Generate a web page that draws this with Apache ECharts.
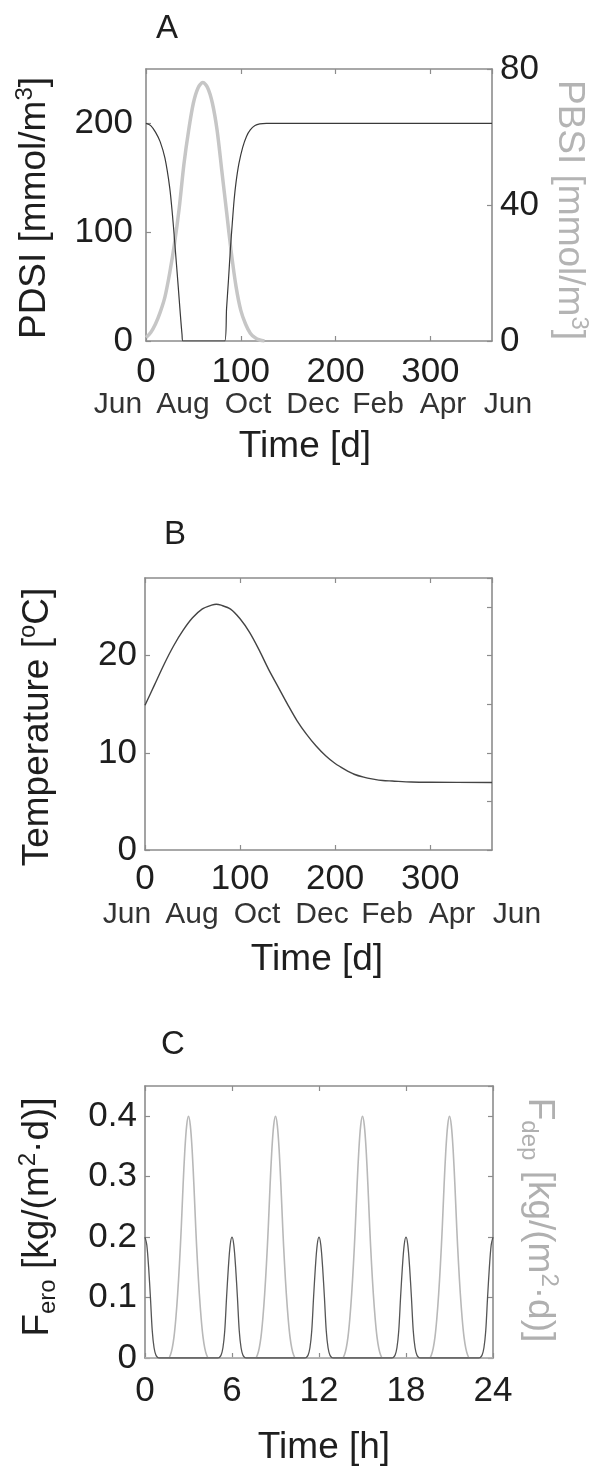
<!DOCTYPE html>
<html><head><meta charset="utf-8">
<script src="https://cdn.jsdelivr.net/npm/echarts@6/dist/echarts.min.js"></script>
<style>html,body{margin:0;padding:0;background:#fff}#c{width:602px;height:1473px}</style>
</head><body><div id="c"></div>
<script>
// ---------- data ----------
const monthLabels = ['Jun','Aug','Oct','Dec','Feb','Apr','Jun'];
const dayAxis = [0, 365, 100];          // min, max, interval
const pdsiAxis = [0, 250, 100];
const pbsiAxis = [0, 80, 40];
const tempAxis = [0, 28, 10];
const hourAxis = [0, 24, 6];
const fluxAxis = [0, 0.45, 0.1];

const pdsiData = [[0,200],[5,198],[10,192],[15,183],[20,168],[25,141],[28,115],[30,94],[32,72],[34,50],[36,27],[38,6],[39,0],
  [83,0],[85,30],[87,56],[89,84],[91,108],[93,130],[95,146],[98,163],[102,178],[106,188],[110,194],[115,198],[120,199.5],[127,200],[365,200]];
const pbsiData = [[0,1],[5,2.5],[10,5],[15,8.5],[20,13],[25,20],[30,28.5],[35,39],[40,52],[45,62],[50,70],[55,74.5],[60,76],[65,74.5],
  [70,70],[75,62],[80,50],[85,38],[90,26],[95,16],[100,9],[105,5],[110,2.3],[115,1],[120,0.3],[125,0]];
const tempData = [[0,14.9],[10,17],[20,19.1],[30,21],[40,22.6],[50,23.9],[60,24.8],[70,25.2],[75,25.3],[80,25.2],[90,24.8],[100,23.8],
  [110,22.4],[120,20.6],[130,18.6],[140,16.8],[150,15],[160,13.3],[170,11.9],[180,10.7],[190,9.7],[200,8.9],[210,8.3],[220,7.8],
  [230,7.5],[240,7.3],[250,7.15],[260,7.1],[280,7.0],[300,6.97],[365,6.95]];
const feroData = [
  [0,0.2],[0.125,0.187],[0.25,0.15],[0.375,0.1],[0.5,0.045],[0.625,0.017],[0.75,0.005],[0.875,0.001],[1,0],
  [5,0],[5.125,0.001],[5.25,0.005],[5.375,0.017],[5.5,0.045],[5.625,0.1],[5.75,0.15],[5.875,0.187],[6,0.2],
  [6.125,0.187],[6.25,0.15],[6.375,0.1],[6.5,0.045],[6.625,0.017],[6.75,0.005],[6.875,0.001],[7,0],
  [11,0],[11.125,0.001],[11.25,0.005],[11.375,0.017],[11.5,0.045],[11.625,0.1],[11.75,0.15],[11.875,0.187],[12,0.2],
  [12.125,0.187],[12.25,0.15],[12.375,0.1],[12.5,0.045],[12.625,0.017],[12.75,0.005],[12.875,0.001],[13,0],
  [17,0],[17.125,0.001],[17.25,0.005],[17.375,0.017],[17.5,0.045],[17.625,0.1],[17.75,0.15],[17.875,0.187],[18,0.2],
  [18.125,0.187],[18.25,0.15],[18.375,0.1],[18.5,0.045],[18.625,0.017],[18.75,0.005],[18.875,0.001],[19,0],
  [23,0],[23.125,0.001],[23.25,0.005],[23.375,0.017],[23.5,0.045],[23.625,0.1],[23.75,0.15],[23.875,0.187],[24,0.2]];
const fdepData = [
  [0,0],[1.625,0],[1.75,0.005],[1.875,0.016],[2,0.035],[2.125,0.065],[2.25,0.105],[2.375,0.155],[2.5,0.215],[2.625,0.285],[2.75,0.345],[2.875,0.385],[3,0.4],
  [3.125,0.385],[3.25,0.345],[3.375,0.285],[3.5,0.215],[3.625,0.155],[3.75,0.105],[3.875,0.065],[4,0.035],[4.125,0.016],[4.25,0.005],[4.375,0],
  [7.625,0],[7.75,0.005],[7.875,0.016],[8,0.035],[8.125,0.065],[8.25,0.105],[8.375,0.155],[8.5,0.215],[8.625,0.285],[8.75,0.345],[8.875,0.385],[9,0.4],
  [9.125,0.385],[9.25,0.345],[9.375,0.285],[9.5,0.215],[9.625,0.155],[9.75,0.105],[9.875,0.065],[10,0.035],[10.125,0.016],[10.25,0.005],[10.375,0],
  [13.625,0],[13.75,0.005],[13.875,0.016],[14,0.035],[14.125,0.065],[14.25,0.105],[14.375,0.155],[14.5,0.215],[14.625,0.285],[14.75,0.345],[14.875,0.385],[15,0.4],
  [15.125,0.385],[15.25,0.345],[15.375,0.285],[15.5,0.215],[15.625,0.155],[15.75,0.105],[15.875,0.065],[16,0.035],[16.125,0.016],[16.25,0.005],[16.375,0],
  [19.625,0],[19.75,0.005],[19.875,0.016],[20,0.035],[20.125,0.065],[20.25,0.105],[20.375,0.155],[20.5,0.215],[20.625,0.285],[20.75,0.345],[20.875,0.385],[21,0.4],
  [21.125,0.385],[21.25,0.345],[21.375,0.285],[21.5,0.215],[21.625,0.155],[21.75,0.105],[21.875,0.065],[22,0.035],[22.125,0.016],[22.25,0.005],[22.375,0],[24,0]];

// ---------- styling ----------
const FONT = '"Liberation Sans", Arial, Helvetica, sans-serif';
const FRAME = '#8c8c8c';
const TXT = '#1e1e1e';
const TICKFS = 35;

function axisBase(gridIndex, a, position, showLabel, labelMargin) {
  return {
    type: 'value', gridIndex, position, min: a[0], max: a[1], interval: a[2],
    axisLine: { show: true, onZero: false, lineStyle: { color: FRAME, width: 1.6 } },
    axisTick: { show: true, inside: true, length: 5, lineStyle: { color: FRAME, width: 1.2 } },
    axisLabel: { show: showLabel, fontSize: TICKFS, fontFamily: FONT, color: TXT, margin: labelMargin, showMaxLabel: a[1] % a[2] === 0 ? null : false },
    splitLine: { show: false }
  };
}

const rich = (fs, color) => ({
  a: { fontSize: fs, fontFamily: FONT, fill: color, lineHeight: 44 },
  sup: { fontSize: 24, fontFamily: FONT, fill: color, verticalAlign: 'top', lineHeight: 26 },
  sub: { fontSize: 24, fontFamily: FONT, fill: color, verticalAlign: 'bottom', lineHeight: 26 }
});
function label(text, x, y, rot, color, fs) {
  return { type: 'text', x, y, rotation: rot, z: 100,
    style: { text, rich: rich(fs || 37, color || TXT), fill: color || TXT, fontSize: fs || 37, fontFamily: FONT, align: 'center', verticalAlign: 'middle' } };
}
function plain(text, x, y, fs, color) {
  return { type: 'text', x, y, z: 100,
    style: { text, fontSize: fs, fontFamily: FONT, fill: color || TXT, align: 'center', verticalAlign: 'middle' } };
}

const graphics = [];
// panel letters
graphics.push(plain('A', 167, 29, 33));
graphics.push(plain('B', 175, 535, 33));
graphics.push(plain('C', 173, 1045, 33));
// axis titles
graphics.push(label('{a|PDSI [mmol/m}{sup|3}{a|]}', 35, 208, Math.PI / 2));
graphics.push(label('{a|PBSI [mmol/m}{sup|3}{a|]}', 569, 210, -Math.PI / 2, '#b4b4b4'));
graphics.push(label('{a|Time [d]}', 305, 447, 0));
graphics.push(label('{a|Temperature [}{sup|o}{a|C]}', 38, 727, Math.PI / 2));
graphics.push(label('{a|Time [d]}', 317, 960, 0));
graphics.push(label('{a|F}{sub|ero}{a| [kg/(m}{sup|2}{a|·d)]}', 38, 1217, Math.PI / 2));
graphics.push(label('{a|F}{sub|dep}{a| [kg/(m}{sup|2}{a|·d)]}', 539, 1220, -Math.PI / 2, '#b0b0b0'));
graphics.push(label('{a|Time [h]}', 324, 1448, 0));
// month rows
monthLabels.forEach((m, i) => {
  graphics.push(plain(m, 118 + i * 65, 405, 30, '#333'));
  graphics.push(plain(m, 127 + i * 65, 915, 30, '#333'));
});

const gridBase = { containLabel: false, outerBoundsMode: 'none' };
const option = {
  animation: false,
  backgroundColor: '#fff',
  grid: [
    Object.assign({ left: 146, top: 69, width: 346, height: 272 }, gridBase),
    Object.assign({ left: 145, top: 578, width: 347, height: 272 }, gridBase),
    Object.assign({ left: 145, top: 1086, width: 348, height: 272 }, gridBase)
  ],
  xAxis: [
    axisBase(0, dayAxis, 'bottom', true, 14),
    axisBase(0, dayAxis, 'top', false, 8),
    axisBase(1, dayAxis, 'bottom', true, 12),
    axisBase(1, dayAxis, 'top', false, 8),
    axisBase(2, hourAxis, 'bottom', true, 16),
    axisBase(2, hourAxis, 'top', false, 8)
  ],
  yAxis: [
    axisBase(0, pdsiAxis, 'left', true, 13),
    axisBase(0, pbsiAxis, 'right', true, 8),
    axisBase(1, tempAxis, 'left', true, 8),
    axisBase(1, [tempAxis[0], tempAxis[1], 5], 'right', false, 8),
    axisBase(2, fluxAxis, 'left', true, 8),
    axisBase(2, fluxAxis, 'right', false, 8)
  ],
  graphic: graphics,
  series: [
    { type: 'line', name: 'PBSI', xAxisIndex: 0, yAxisIndex: 1, data: pbsiData, showSymbol: false, smooth: 0.3, z: 2,
      lineStyle: { color: '#c6c6c6', width: 3.5 } },
    { type: 'line', name: 'PDSI', xAxisIndex: 0, yAxisIndex: 0, data: pdsiData, showSymbol: false, smooth: 0.3, z: 3,
      lineStyle: { color: '#3a3a3a', width: 1.2 } },
    { type: 'line', name: 'Temperature', xAxisIndex: 2, yAxisIndex: 2, data: tempData, showSymbol: false, smooth: 0.3,
      lineStyle: { color: '#444', width: 1.4 } },
    { type: 'line', name: 'Fero', xAxisIndex: 4, yAxisIndex: 4, data: feroData, showSymbol: false, smooth: 0.3, z: 3,
      lineStyle: { color: '#555', width: 1.3 } },
    { type: 'line', name: 'Fdep', xAxisIndex: 4, yAxisIndex: 5, data: fdepData, showSymbol: false, smooth: 0.3, z: 2,
      lineStyle: { color: '#b8b8b8', width: 1.6 } }
  ]
};
const chart = echarts.init(document.getElementById('c'), null, { renderer: 'canvas' });
chart.setOption(option);
</script>
</body></html>
